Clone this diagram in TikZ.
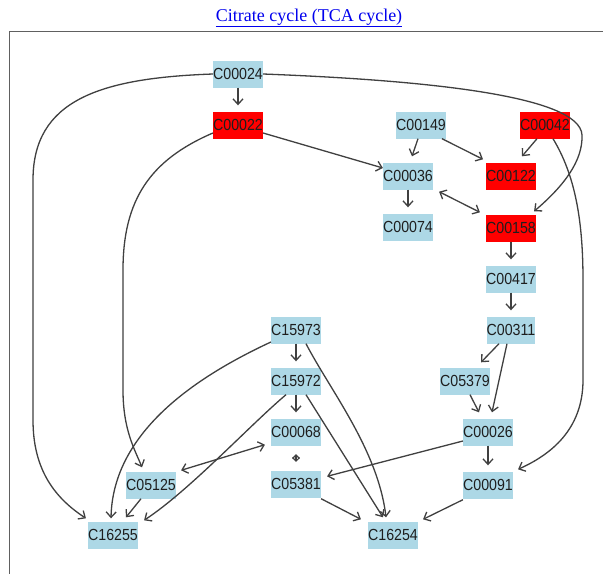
\documentclass[tikz,border=0pt]{standalone}
\usepackage{fontspec}
\usepackage{graphicx}
\newfontfamily\nodefont{Liberation Sans}
\newfontfamily\titlefont{Liberation Serif}
\usetikzlibrary{arrows.meta}
\definecolor{cpdblue}{HTML}{ADD8E6}
\definecolor{cpdred}{HTML}{FF0000}
\definecolor{linkblue}{HTML}{0000EE}
\definecolor{edgegray}{HTML}{404040}
\definecolor{framegray}{HTML}{606060}
\definecolor{labelgray}{HTML}{1E1E1E}
\newcommand{\cpdlabel}[1]{\scalebox{1}[1.13]{#1}}
\tikzset{
  cpd/.style={rectangle, fill=cpdblue, minimum width=47pt, minimum height=27pt, inner sep=0pt, font=\nodefont\fontsize{14.2}{16}\selectfont, text=labelgray},
  hot/.style={cpd, fill=cpdred},
  edge/.style={draw=edgegray, line width=1.3pt, -{Straight Barb[length=5.5pt,width=10pt]}},
  bidi/.style={draw=edgegray, line width=1.3pt, {Straight Barb[length=5.5pt,width=10pt]}-{Straight Barb[length=5.5pt,width=10pt]}},
  tinybidi/.style={draw=edgegray, line width=1.1pt, {Straight Barb[length=3.5pt,width=7pt]}-{Straight Barb[length=3.5pt,width=7pt]}},
  gap/.style={shorten >=6pt},
}
\begin{document}
\begin{tikzpicture}[x=1pt,y=-1pt]
\useasboundingbox (0,0) rectangle (603,574);
\fill[white] (0,0) rectangle (603,574);
% title
\node[font=\titlefont\fontsize{18}{20}\selectfont, text=linkblue, inner sep=0pt] (title) at (309,18) {\underline{Citrate cycle (TCA cycle)}};
% frame
\coordinate (frTR) at (603,31.5);
\coordinate (frTL) at (9.5,31.5);
\coordinate (frBL) at (9.5,574);
\draw[framegray, line width=1.5pt] (frTR) -- (frTL) -- (frBL);

\coordinate (k1) at (33,180);
\coordinate (k2) at (33,420);
\coordinate (k3) at (582,135);
\coordinate (k4) at (123,270);
\coordinate (k5) at (123,390);
\coordinate (k6) at (583,280);
\coordinate (k7) at (583,380);

% nodes
\node[cpd] (C00024) at (238,74) {\cpdlabel{C00024}};
\node[hot] (C00022) at (238,125) {\cpdlabel{C00022}};
\node[cpd] (C00149) at (421,125) {\cpdlabel{C00149}};
\node[hot] (C00042) at (545,125) {\cpdlabel{C00042}};
\node[cpd] (C00036) at (408,176) {\cpdlabel{C00036}};
\node[hot] (C00122) at (511,176) {\cpdlabel{C00122}};
\node[cpd] (C00074) at (408,227) {\cpdlabel{C00074}};
\node[hot] (C00158) at (511,228) {\cpdlabel{C00158}};
\node[cpd] (C00417) at (511,279) {\cpdlabel{C00417}};
\node[cpd] (C00311) at (511,330) {\cpdlabel{C00311}};
\node[cpd] (C15973) at (296,330) {\cpdlabel{C15973}};
\node[cpd] (C15972) at (296,381) {\cpdlabel{C15972}};
\node[cpd] (C05379) at (465,381) {\cpdlabel{C05379}};
\node[cpd] (C00068) at (296,432) {\cpdlabel{C00068}};
\node[cpd] (C00026) at (488,432) {\cpdlabel{C00026}};
\node[cpd] (C05125) at (151,485) {\cpdlabel{C05125}};
\node[cpd] (C05381) at (296,484) {\cpdlabel{C05381}};
\node[cpd] (C00091) at (488,485) {\cpdlabel{C00091}};
\node[cpd] (C16255) at (113,535) {\cpdlabel{C16255}};
\node[cpd] (C16254) at (393,535) {\cpdlabel{C16254}};

% connectors
\draw[edge, gap] (C00024.south) -- (C00022.north);
\draw[edge] (C00024.west) .. controls (100,78) and (33,100) .. (k1) -- (k2) .. controls (33,470) and (55,498) .. ([xshift=-2pt,yshift=3pt]C16255.north west);
\draw[edge] (C00024.east) .. controls (420,80) and (580,95) .. (k3) .. controls (583,160) and (565,185) .. ([xshift=-2pt,yshift=3pt]C00158.north east);
\draw[edge] ([yshift=-8pt]C00022.east) -- ([yshift=8pt]C00036.west);
\draw[edge] ([yshift=-8pt]C00022.west) .. controls (150,160) and (123,200) .. (k4) -- (k5) .. controls (123,430) and (135,450) .. ([xshift=-9pt,yshift=4pt]C05125.north);
\draw[edge] ([xshift=-3pt]C00149.south) -- ([xshift=4pt,yshift=6pt]C00036.north);
\draw[edge] ([xshift=21pt]C00149.south) -- ([xshift=-28pt,yshift=3pt]C00122.north);
\draw[edge] ([xshift=-8pt]C00042.south) -- ([xshift=11pt,yshift=6pt]C00122.north);
\draw[edge] ([xshift=8pt]C00042.south) .. controls (575,175) and (583,220) .. (k6) -- (k7) .. controls (583,430) and (550,455) .. ([xshift=5pt,yshift=2pt]C00091.north east);
\draw[bidi] ([xshift=6pt,yshift=-2pt]C00036.south east) -- ([xshift=-6pt,yshift=2pt]C00158.north west);
\draw[edge, gap] (C00036.south) -- (C00074.north);
\draw[edge, gap] (C00158.south) -- (C00417.north);
\draw[edge, gap] (C00417.south) -- (C00311.north);
\draw[edge] ([xshift=-12pt]C00311.south) -- ([xshift=16pt,yshift=5pt]C05379.north);
\draw[edge] ([xshift=-4pt]C00311.south) -- ([xshift=4pt,yshift=6pt]C00026.north);
\draw[edge] ([xshift=5pt]C05379.south) -- ([xshift=-9pt,yshift=6pt]C00026.north);
\draw[edge, gap] (C00026.south) -- (C00091.north);
\draw[edge] ([yshift=-9pt]C00026.west) -- ([xshift=6pt,yshift=-6pt]C05381.north east);
\draw[edge, gap] (C15973.south) -- (C15972.north);
\draw[edge, gap] (C15972.south) -- (C00068.north);
\draw[edge] ([yshift=-12pt]C15973.west) .. controls (200,375) and (113,430) .. ([xshift=-2pt,yshift=3pt]C16255.north);
\draw[edge] ([xshift=10pt]C15973.south) .. controls (330,390) and (378,450) .. ([xshift=-7pt,yshift=4pt]C16254.north);
\draw[edge] ([xshift=-10pt]C15972.south) .. controls (250,425) and (190,490) .. ([xshift=6pt,yshift=1pt]C16255.north east);
\draw[edge] ([xshift=10pt]C15972.south) -- ([xshift=-10pt,yshift=4pt]C16254.north);
\draw[bidi] ([xshift=-6pt,yshift=1pt]C00068.south west) -- ([xshift=5pt,yshift=1pt]C05125.north east);
\draw[tinybidi, shorten >=8.5pt, shorten <=8.5pt] (C00068.south) -- (C05381.north);
\draw[edge] ([yshift=-1pt]C05381.south east) -- ([xshift=-7pt,yshift=2pt]C16254.north west);
\draw[edge] ([yshift=-1pt]C00091.south west) -- ([xshift=5pt,yshift=2pt]C16254.north east);
\draw[edge] ([xshift=-10pt]C05125.south) -- ([xshift=13pt,yshift=4pt]C16255.north);
\end{tikzpicture}
\end{document}
